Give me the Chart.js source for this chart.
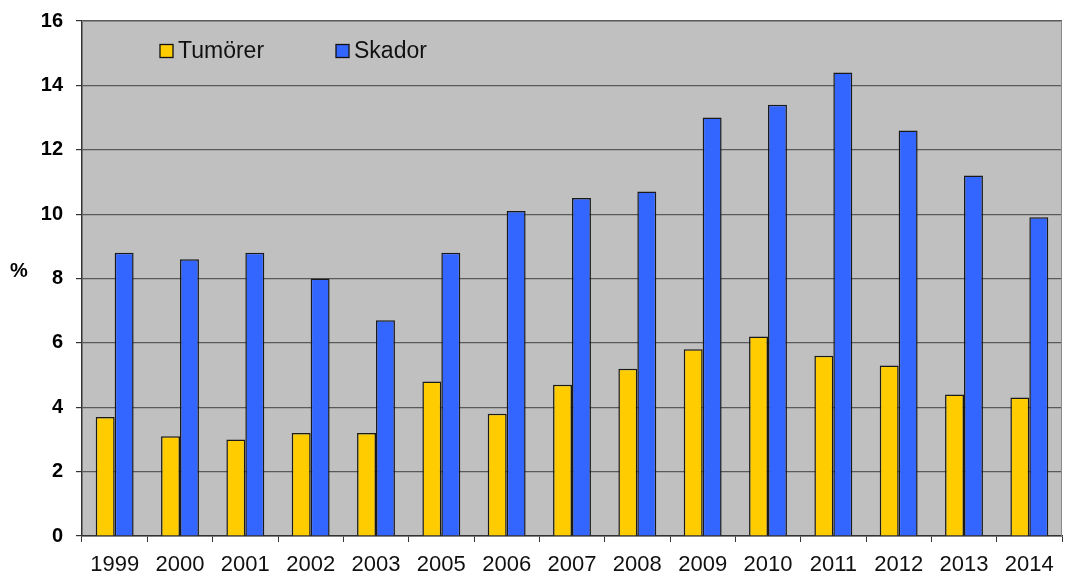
<!DOCTYPE html>
<html>
<head>
<meta charset="utf-8">
<script src="https://cdn.jsdelivr.net/npm/chart.js@4"></script>
<style>
    html, body { margin: 0; padding: 0; background: #fff; }
    #wrap { width: 1065px; height: 578px; }
</style>
</head>
<body>
<div id="wrap"><canvas id="chart" width="1065" height="578"></canvas></div>
<script>
// Years and percentages per series
const years = ['1999', '2000', '2001', '2002', '2003', '2005', '2006', '2007', '2008', '2009', '2010', '2011', '2012', '2013', '2014'];
const tumorer = [3.7, 3.1, 3.0, 3.2, 3.2, 4.8, 3.8, 4.7, 5.2, 5.8, 6.2, 5.6, 5.3, 4.4, 4.3];
const skador = [8.8, 8.6, 8.8, 8.0, 6.7, 8.8, 10.1, 10.5, 10.7, 13.0, 13.4, 14.4, 12.6, 11.2, 9.9];
const yTicks = [0, 2, 4, 6, 8, 10, 12, 14, 16];

const FONT = "'Liberation Sans', Arial, sans-serif";

// Grey plot background, frame, legend inside the plot and the "%" label
const plotDecor = {
    id: 'plotDecor',
    beforeDraw(chart) {
        const { ctx, chartArea: a } = chart;
        ctx.save();
        ctx.fillStyle = '#c0c0c0';
        ctx.fillRect(a.left, a.top, a.right - a.left, a.bottom - a.top);
        ctx.restore();
    },
    afterDraw(chart) {
        const { ctx, chartArea: a } = chart;
        ctx.save();
        ctx.strokeStyle = '#8a8a8a';
        ctx.lineWidth = 1;
        ctx.beginPath();
        ctx.moveTo(a.left, a.top + 0.5);
        ctx.lineTo(a.right - 0.5, a.top + 0.5);
        ctx.lineTo(a.right - 0.5, a.bottom);
        ctx.stroke();

        // legend
        ctx.font = '23px ' + FONT;
        ctx.textBaseline = 'middle';
        let x = a.left + 78;
        const y = 51;
        chart.data.datasets.forEach(ds => {
            ctx.fillStyle = ds.backgroundColor;
            ctx.fillRect(x, y - 6.5, 13, 13);
            ctx.strokeStyle = '#111';
            ctx.lineWidth = 1.3;
            ctx.strokeRect(x, y - 6.5, 13, 13);
            ctx.fillStyle = '#111';
            ctx.fillText(ds.label, x + 18, y + 1);
            x += 176;
        });

        // axis unit
        ctx.font = 'bold 20px ' + FONT;
        ctx.fillStyle = '#000';
        ctx.textAlign = 'left';
        ctx.fillText('%', 10, 271);
        ctx.restore();
    }
};

new Chart(document.getElementById('chart'), {
    type: 'bar',
    data: {
        labels: years,
        datasets: [
            {
                label: 'Tumörer',
                data: tumorer,
                backgroundColor: '#ffcc00',
                borderColor: '#1a1a1a',
                borderWidth: 1.5,
                borderSkipped: 'bottom'
            },
            {
                label: 'Skador',
                data: skador,
                backgroundColor: '#3366ff',
                borderColor: '#1a1a1a',
                borderWidth: 1.5,
                borderSkipped: 'bottom'
            }
        ]
    },
    options: {
        responsive: false,
        animation: false,
        layout: { padding: { top: 0, right: 3, bottom: 0, left: 0 } },
        plugins: {
            legend: { display: false },
            tooltip: { enabled: false }
        },
        datasets: {
            bar: { categoryPercentage: 0.58, barPercentage: 1.0 }
        },
        scales: {
            x: {
                offset: true,
                grid: {
                    offset: true,
                    drawOnChartArea: false,
                    drawTicks: true,
                    tickLength: 6,
                    color: '#333'
                },
                border: { color: '#333', width: 1.5 },
                ticks: {
                    color: '#111',
                    font: { family: FONT, size: 22 },
                    padding: 10,
                    maxRotation: 0,
                    autoSkip: false
                },
                afterFit: scale => { scale.height = 42; }
            },
            y: {
                min: 0,
                max: 16,
                afterBuildTicks: scale => { scale.ticks = yTicks.map(v => ({ value: v })); },
                grid: {
                    color: '#5a5a5a',
                    lineWidth: 1.2,
                    tickLength: 6,
                    tickColor: '#333'
                },
                border: { color: '#333', width: 1.5 },
                ticks: {
                    color: '#000',
                    font: { family: FONT, size: 20, weight: 'bold', lineHeight: 0.8 },
                    padding: 13
                },
                afterFit: scale => { scale.width = 82; }
            }
        }
    },
    plugins: [plotDecor]
});
</script>
</body>
</html>
